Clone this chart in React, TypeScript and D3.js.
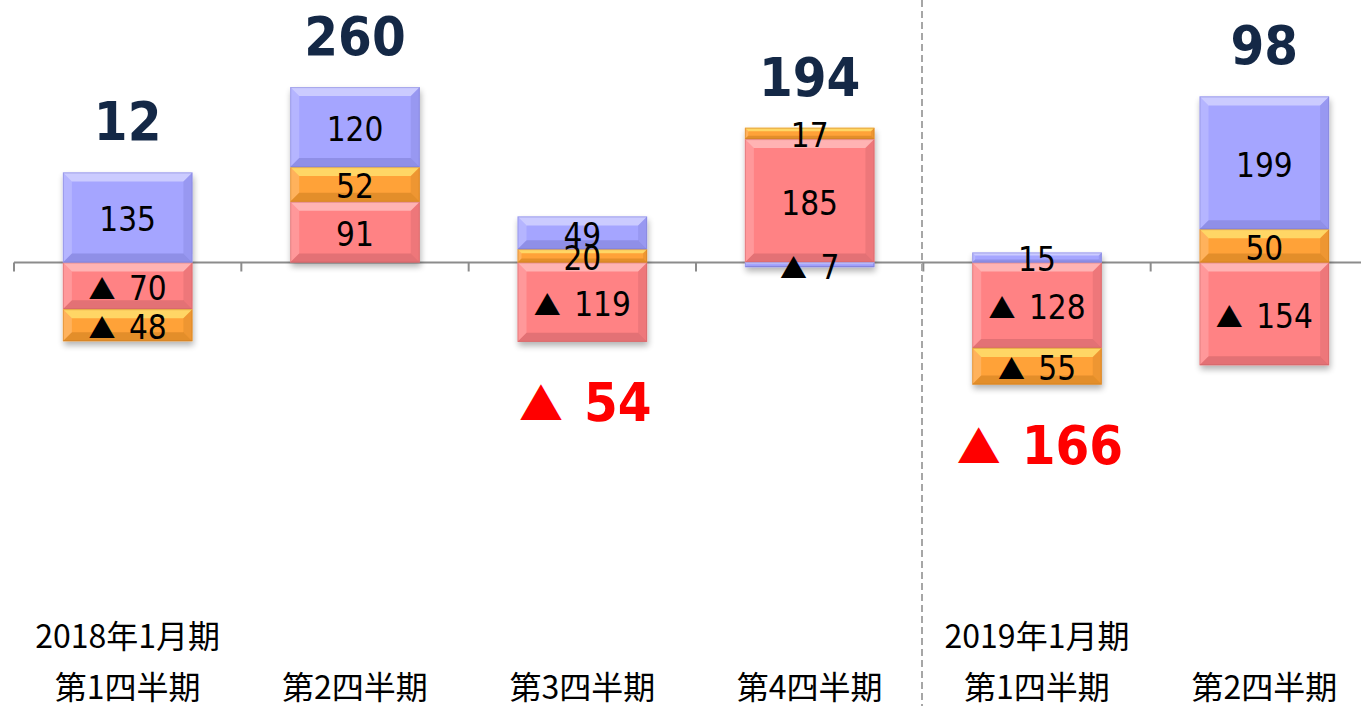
import React from "react";
import * as d3 from "d3";

const categories = ["Q1_2018", "Q2_2018", "Q3_2018", "Q4_2018", "Q1_2019", "Q2_2019"];
const catLine1 = ["2018年1月期", "", "", "", "2019年1月期", ""];
const catLine2 = ["第1四半期", "第2四半期", "第3四半期", "第4四半期", "第1四半期", "第2四半期"];
const seriesKeys = ["red", "orange", "blue"];
const redValues = [-70, 91, -119, 185, -128, -154];
const orangeValues = [-48, 52, 20, 17, -55, 50];
const blueValues = [135, 120, 49, -7, 15, 199];
const totals = [12, 260, -54, 194, -166, 98];

const W = 1361;
const H = 706;
const baseColor: Record<string, string> = { red: "#ff8284", orange: "#ffa237", blue: "#a5a5ff" };
const lightColor: Record<string, string> = { red: "#ffb8b8", orange: "#ffdc6a", blue: "#cfcfff" };
const darkColor: Record<string, string> = { red: "#c86064", orange: "#c87a20", blue: "#7a7ad0" };

const segFont = "'DejaVu Sans Condensed', 'DejaVu Sans', sans-serif";
const triFont = "'Noto Sans CJK JP', sans-serif";

export default function App() {
  const rows = categories.map((c, i) => ({
    cat: c,
    red: redValues[i],
    orange: orangeValues[i],
    blue: blueValues[i],
  }));
  const stacked = d3
    .stack<any>()
    .keys(seriesKeys)
    .offset(d3.stackOffsetDiverging)(rows);

  const x = d3
    .scaleBand<string>()
    .domain(categories)
    .range([14, 1378])
    .paddingInner(0.43)
    .paddingOuter(0.215);
  const zeroY = 262.5;
  const pxPerUnit = 0.667;
  const y = d3
    .scaleLinear()
    .domain([-400, 400])
    .range([zeroY + 400 * pxPerUnit, zeroY - 400 * pxPerUnit]);

  const bw = x.bandwidth();
  const step = x.step();
  const tickXs = d3.range(categories.length + 1).map((k) => (x(categories[0]) as number) - (step - bw) / 2 + k * step);

  const segs: any[] = [];
  stacked.forEach((layer) => {
    layer.forEach((d: any, i: number) => {
      const v = (rows[i] as any)[layer.key];
      const top = y(Math.max(d[0], d[1]));
      const bot = y(Math.min(d[0], d[1]));
      segs.push({ key: layer.key, i, v, x: x(categories[i]) as number, top, bot });
    });
  });

  const barExtents = categories.map((c, i) => {
    const mine = segs.filter((s) => s.i === i);
    return { top: d3.min(mine, (s) => s.top) as number, bot: d3.max(mine, (s) => s.bot) as number };
  });

  const bevel = (s: any, k: number) => {
    const x0 = s.x;
    const w = bw;
    const y0 = s.top;
    const h = s.bot - s.top;
    const b = Math.min(9, h * 0.3, w / 2);
    const x1 = x0 + w;
    const y1 = y0 + h;
    return (
      <g key={"b" + k}>
        <rect x={x0} y={y0} width={w} height={h} fill={baseColor[s.key]} />
        <polygon
          points={`${x0},${y0} ${x1},${y0} ${x1 - b},${y0 + b} ${x0 + b},${y0 + b}`}
          fill={lightColor[s.key]}
          opacity={0.9}
        />
        <polygon
          points={`${x0},${y0} ${x0 + b},${y0 + b} ${x0 + b},${y1 - b} ${x0},${y1}`}
          fill="#ffffff"
          opacity={0.18}
        />
        <polygon
          points={`${x1},${y0} ${x1},${y1} ${x1 - b},${y1 - b} ${x1 - b},${y0 + b}`}
          fill={darkColor[s.key]}
          opacity={0.3}
        />
        <polygon
          points={`${x0},${y1} ${x0 + b},${y1 - b} ${x1 - b},${y1 - b} ${x1},${y1}`}
          fill={darkColor[s.key]}
          opacity={0.5}
        />
        <rect x={x0 + 0.5} y={y0 + 0.5} width={w - 1} height={Math.max(0, h - 1)} fill="none" stroke={darkColor[s.key]} strokeOpacity={0.45} strokeWidth={1} />
      </g>
    );
  };

  const label = (v: number, triSize: number, gap: number) =>
    v < 0 ? (
      <>
        <tspan fontFamily={triFont} fontSize={triSize}>▲</tspan>
        <tspan dx={gap}>{" " + Math.abs(v)}</tspan>
      </>
    ) : (
      <tspan>{v}</tspan>
    );

  return (
    <svg width={W} height={H} style={{ position: "absolute", left: 0, top: 0, background: "#ffffff" }}>
      <defs>
        <filter id="shadow" x="-20%" y="-20%" width="140%" height="140%">
          <feGaussianBlur in="SourceAlpha" stdDeviation="3" />
          <feOffset dx="1" dy="4" result="off" />
          <feComponentTransfer>
            <feFuncA type="linear" slope="0.3" />
          </feComponentTransfer>
          <feMerge>
            <feMergeNode />
            <feMergeNode in="SourceGraphic" />
          </feMerge>
        </filter>
      </defs>
      <rect x={0} y={0} width={W} height={H} fill="#ffffff" />
      {/* axis */}
      <line x1={tickXs[0]} x2={W} y1={y(0)} y2={y(0)} stroke="#8c8c8c" strokeWidth={2} />
      {tickXs.map((tx, k) => (
        <line key={"t" + k} x1={tx} x2={tx} y1={y(0)} y2={y(0) + 9} stroke="#8c8c8c" strokeWidth={2} />
      ))}
      {/* divider */}
      <line x1={922} x2={922} y1={0} y2={H} stroke="#a6a6a6" strokeWidth={2} strokeDasharray="7,4" />
      {/* bars */}
      {categories.map((c, i) => (
        <g key={"bar" + i} filter="url(#shadow)">
          {segs.filter((s) => s.i === i).map((s, k) => bevel(s, i * 10 + k))}
        </g>
      ))}
      {/* segment labels */}
      {segs.map((s, k) => (
        <text
          key={"l" + k}
          x={s.x + bw / 2}
          y={(s.top + s.bot) / 2 + 14}
          textAnchor="middle"
          fontFamily={segFont}
          fontSize={33}
          fill="#000000"
        >
          {label(s.v, 27, 4)}
        </text>
      ))}
      {/* totals */}
      {totals.map((t, i) => {
        const cx = (x(categories[i]) as number) + bw / 2;
        if (t >= 0) {
          return (
            <text
              key={"tot" + i}
              x={cx}
              y={barExtents[i].top - 32}
              textAnchor="middle"
              fontFamily={segFont}
              fontWeight="bold"
              fontSize={54}
              fill="#142846"
            >
              {t}
            </text>
          );
        }
        return (
          <text
            key={"tot" + i}
            x={cx + 3}
            y={barExtents[i].bot + 79}
            textAnchor="middle"
            fontFamily={segFont}
            fontWeight="bold"
            fontSize={54}
            fill="#ff0000"
          >
            {label(t, 44, 4)}
          </text>
        );
      })}
      {/* category labels */}
      {categories.map((c, i) => {
        const cx = (x(c) as number) + bw / 2;
        return (
          <g key={"c" + i}>
            {catLine1[i] && (
              <text x={cx} y={648} textAnchor="middle" fontFamily="'Noto Sans CJK JP', sans-serif" fontSize={32} fill="#000000">
                {catLine1[i]}
              </text>
            )}
            <text x={cx} y={699} textAnchor="middle" fontFamily="'Noto Sans CJK JP', sans-serif" fontSize={32} fill="#000000">
              {catLine2[i]}
            </text>
          </g>
        );
      })}
    </svg>
  );
}
